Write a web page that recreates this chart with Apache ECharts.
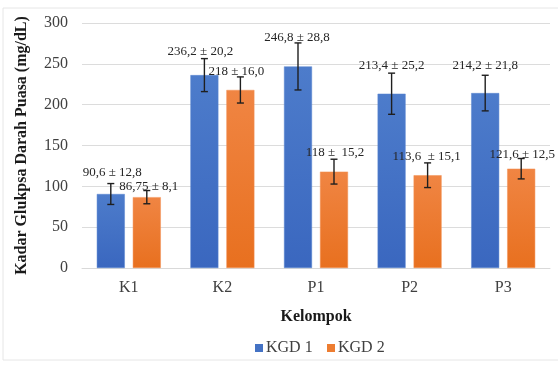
<!DOCTYPE html>
<html><head><meta charset="utf-8">
<script src="https://cdn.jsdelivr.net/npm/echarts@6/dist/echarts.min.js"></script>
<style>html,body{margin:0;padding:0;background:#fff;}#c{width:558px;height:366px;}</style>
</head><body><div id="c"></div>
<script>
var categories = ['K1', 'K2', 'P1', 'P2', 'P3'];
var seriesNames = ['KGD 1', 'KGD 2'];
var kgd1 = [90.6, 236.2, 246.8, 213.4, 214.2];
var sd1 = [12.8, 20.2, 28.8, 25.2, 21.8];
var kgd2 = [86.75, 218, 118, 113.6, 121.6];
var sd2 = [8.1, 16.0, 15.2, 15.1, 12.5];
var labels1 = ['90,6 ± 12,8', '236,2 ± 20,2', '246,8 ± 28,8', '213,4 ± 25,2', '214,2 ± 21,8'];
var labels2 = ['86,75 ± 8,1', '218 ± 16,0', '118 ±  15,2', '113,6  ± 15,1', '121,6 ± 12,5'];
var yTicks = [0, 50, 100, 150, 200, 250, 300];

// label placement (layout only, pixels relative to the error-bar top)
var labelDx1 = [1.5, -4, -1, 0, 0];
var labelDy1 = [-10.5, -7.5, -5, -8, -10];
var labelDx2 = [2, -4, 1, -1, 1];
var labelDy2 = [-3.5, -5, -7, -6, -4];

var FONT = '"Liberation Serif", serif';
var BAR_W = 28, GAP = 8;
var BLUE_TOP = '#4d7ccb', BLUE_BOT = '#3a67bf';
var ORANGE_TOP = '#f08543', ORANGE_BOT = '#e8701f';

function errSeries(name, means, sds, texts, sign, dxs, dys) {
  return {
    type: 'custom',
    name: name + ' err',
    z: 5,
    silent: true,
    data: means.map(function (m, i) { return [i, m, sds[i]]; }),
    renderItem: function (params, api) {
      var i = params.dataIndex;
      var cx = api.coord([api.value(0), 0])[0] + sign * (BAR_W / 2 + GAP / 2);
      var m = api.value(1), s = api.value(2);
      var top = api.coord([api.value(0), m + s])[1];
      var bot = api.coord([api.value(0), m - s])[1];
      var cap = 3.5;
      var st = { stroke: '#1f1f1f', lineWidth: 1.4 };
      return {
        type: 'group',
        children: [
          { type: 'line', shape: { x1: cx, y1: top, x2: cx, y2: bot }, style: st },
          { type: 'line', shape: { x1: cx - cap, y1: top, x2: cx + cap, y2: top }, style: st },
          { type: 'line', shape: { x1: cx - cap, y1: bot, x2: cx + cap, y2: bot }, style: st },
          { type: 'text', x: cx + dxs[i], y: top + dys[i], style: {
              text: texts[i], fill: '#262626', fontFamily: FONT, fontSize: 13,
              align: 'center', verticalAlign: 'middle' } }
        ]
      };
    }
  };
}

function legendItem(x, name, color) {
  return [
    { type: 'rect', shape: { x: x, y: 344, width: 8, height: 8 }, style: { fill: color }, silent: true },
    { type: 'text', x: x + 11, y: 348, style: { text: name, fontFamily: FONT, fontSize: 16,
        fill: '#404040', verticalAlign: 'middle', align: 'left' }, silent: true }
  ];
}

var chart = echarts.init(document.getElementById('c'));
chart.setOption({
  animation: false,
  textStyle: { fontFamily: FONT },
  graphic: [{
    type: 'rect', shape: { x: 3, y: 8, width: 560, height: 352 },
    style: { fill: 'none', stroke: '#e6e6e6', lineWidth: 1 }, silent: true, z: -1
  }].concat(legendItem(255, seriesNames[0], '#4472c4'), legendItem(327, seriesNames[1], '#ed7d31')),
  grid: { left: 82, right: 8, top: 23, bottom: 98 },
  xAxis: {
    type: 'category', data: categories,
    name: 'Kelompok', nameLocation: 'middle', nameGap: 41,
    nameTextStyle: { fontFamily: FONT, fontSize: 16, fontWeight: 'bold', color: '#1a1a1a' },
    axisLine: { lineStyle: { color: '#d9d9d9' } },
    axisTick: { show: false },
    axisLabel: { fontFamily: FONT, fontSize: 16, color: '#404040', margin: 12 }
  },
  yAxis: {
    type: 'value', min: 0, max: 300, interval: 50,
    name: 'Kadar Glukpsa Darah Puasa (mg/dL)', nameLocation: 'middle', nameGap: 52,
    nameTextStyle: { fontFamily: FONT, fontSize: 16, fontWeight: 'bold', color: '#1a1a1a' },
    axisLine: { show: false }, axisTick: { show: false },
    splitLine: { lineStyle: { color: '#dcdcdc' } },
    axisLabel: { fontFamily: FONT, fontSize: 16, color: '#404040', margin: 14,
      formatter: function (v) { return yTicks.indexOf(v) >= 0 ? String(v) : ''; } }
  },
  series: [
    { type: 'bar', name: seriesNames[0], data: kgd1, barWidth: BAR_W, barGap: (GAP / BAR_W * 100) + '%',
      itemStyle: { color: new echarts.graphic.LinearGradient(0, 0, 0, 1, [
        { offset: 0, color: BLUE_TOP }, { offset: 1, color: BLUE_BOT }]),
        borderColor: '#5b86d0', borderWidth: 0.5 } },
    { type: 'bar', name: seriesNames[1], data: kgd2, barWidth: BAR_W,
      itemStyle: { color: new echarts.graphic.LinearGradient(0, 0, 0, 1, [
        { offset: 0, color: ORANGE_TOP }, { offset: 1, color: ORANGE_BOT }]),
        borderColor: '#f29055', borderWidth: 0.5 } },
    errSeries(seriesNames[0], kgd1, sd1, labels1, -1, labelDx1, labelDy1),
    errSeries(seriesNames[1], kgd2, sd2, labels2, 1, labelDx2, labelDy2)
  ]
});
</script></body></html>
